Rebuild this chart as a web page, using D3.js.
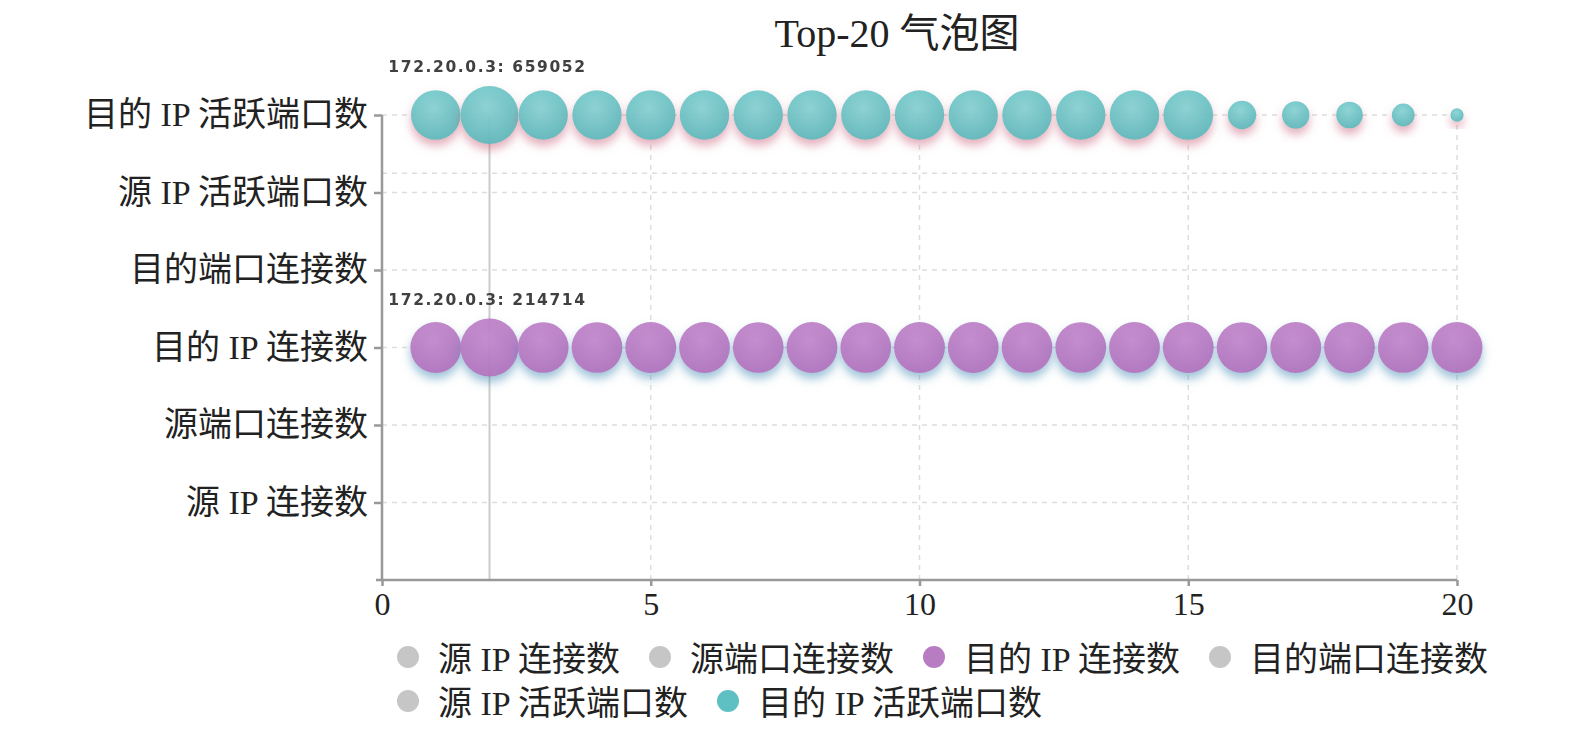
<!DOCTYPE html>
<html lang="zh">
<head>
<meta charset="UTF-8">
<title>Top-20 气泡图</title>
<script src="https://d3js.org/d3.v7.min.js"></script>
<style>
    body { margin: 0; background: #fff; }
    text { font-family: "Liberation Serif", "Noto Sans CJK SC", serif; fill: #222; }
    .grid line { stroke: #ddd; stroke-width: 1.5; stroke-dasharray: 5,5; }
    .axis line, .axis path { stroke: #999; stroke-width: 2.5; }
    .tip { font-family: "DejaVu Sans", "Liberation Sans", sans-serif; font-weight: bold; font-size: 15.5px; letter-spacing: 1.6px; fill: #3f3f3f; }
</style>
</head>
<body>
<svg width="1575" height="730"></svg>
<script>
// categories, bottom to top on the y axis (also the legend order)
const categories = ["源 IP 连接数", "源端口连接数", "目的 IP 连接数", "目的端口连接数", "源 IP 活跃端口数", "目的 IP 活跃端口数"];
const ranks = d3.range(1, 21);
// 目的 IP 活跃端口数, top-20 values (x = rank)
const dstIpActivePorts = [482300, 659052, 476800, 478100, 480500, 479200, 477600, 478900, 476200, 479800,
                          477100, 481200, 478400, 480100, 483600, 158200, 146800, 138500, 102300, 34600];
// 目的 IP 连接数, top-20 values
const dstIpConns = [164800, 214714, 163900, 164200, 165100, 164500, 163700, 164900, 164100, 165300,
                    164600, 163800, 164300, 165000, 164700, 163600, 165200, 164400, 163500, 166100];
const hoverRank = 2;
const hoverIp = "172.20.0.3";
const extraGrid = [5.25];
const xTicks = [0, 5, 10, 15, 20];

const seriesColors = {
    "目的 IP 连接数": "#b87cc3",
    "目的 IP 活跃端口数": "#5fc0c3"
};
const series = [
    { name: "目的 IP 活跃端口数", level: 6, values: dstIpActivePorts, grad: "gCyan", shadow: "sPink" },
    { name: "目的 IP 连接数", level: 3, values: dstIpConns, grad: "gPurple", shadow: "sBlue" }
];

const svg = d3.select("svg");
const pLeft = 382, pRight = 1457, pTop = 115, pBottom = 580;

const x = d3.scaleLinear().domain([0, 20]).range([pLeft, pRight]);
const y = d3.scaleLinear().domain([0, 6]).range([pBottom, pTop]);

// defs: gradients and shadows
const defs = svg.append("defs");
function radial(id, c0, c1) {
    const g = defs.append("radialGradient").attr("id", id)
        .attr("cx", "0.45").attr("cy", "0.35").attr("r", "0.7");
    g.append("stop").attr("offset", "0%").attr("stop-color", c0);
    g.append("stop").attr("offset", "100%").attr("stop-color", c1);
}
radial("gCyan", "#84d3d4", "#52b7ba");
radial("gPurple", "#c488cc", "#b06fbc");
function shadow(id, color) {
    const f = defs.append("filter").attr("id", id)
        .attr("x", "-50%").attr("y", "-50%").attr("width", "200%").attr("height", "200%");
    f.append("feDropShadow").attr("dx", 0).attr("dy", 6).attr("stdDeviation", 5)
        .attr("flood-color", color).attr("flood-opacity", 0.55);
}
shadow("sPink", "#c8607a");
shadow("sBlue", "#3a86b0");
defs.append("filter").attr("id", "soft")
    .append("feGaussianBlur").attr("stdDeviation", 0.6);

// title
svg.append("text")
    .attr("x", 897).attr("y", 47)
    .attr("text-anchor", "middle")
    .style("font-size", "40px")
    .text("Top-20 气泡图");

// grid
const grid = svg.append("g").attr("class", "grid");
grid.selectAll(".h").data(d3.range(1, 7).concat(extraGrid)).join("line")
    .attr("x1", pLeft).attr("x2", pRight)
    .attr("y1", d => y(d)).attr("y2", d => y(d));
grid.selectAll(".v").data(xTicks.slice(1)).join("line")
    .attr("x1", d => x(d)).attr("x2", d => x(d))
    .attr("y1", pTop).attr("y2", pBottom);

// hover crosshair
svg.append("line")
    .attr("x1", x(hoverRank)).attr("x2", x(hoverRank))
    .attr("y1", pTop).attr("y2", pBottom)
    .attr("stroke", "#ccc").attr("stroke-width", 2);

// axes
const xAxis = svg.append("g").attr("class", "axis")
    .attr("transform", `translate(0,${pBottom})`)
    .call(d3.axisBottom(x).tickValues(xTicks).tickSize(6).tickSizeOuter(0).tickPadding(6));
xAxis.select(".domain").attr("d", `M${pLeft - 6},0H${pRight}`);
xAxis.selectAll("text").style("font-size", "32px").attr("fill", "#222");

const yAxis = svg.append("g").attr("class", "axis")
    .attr("transform", `translate(${pLeft},0)`)
    .call(d3.axisLeft(y).tickValues(d3.range(1, 7)).tickFormat(d => categories[d - 1])
        .tickSize(8).tickSizeOuter(0).tickPadding(6));
yAxis.select(".domain").attr("d", `M0,${pTop}V${pBottom}`);
yAxis.selectAll("text").style("font-size", "34px").attr("fill", "#222").attr("dy", "0.32em");

// bubbles
series.forEach(s => {
    const r = d3.scaleSqrt().domain([0, d3.max(s.values)]).range([0, 29]);
    svg.append("g").selectAll("circle").data(s.values).join("circle")
        .attr("cx", (d, i) => x(ranks[i]))
        .attr("cy", y(s.level))
        .attr("r", d => r(d))
        .attr("fill", `url(#${s.grad})`)
        .attr("fill-opacity", 0.9)
        .attr("filter", `url(#${s.shadow})`);
    const hv = s.values[hoverRank - 1];
    svg.append("text").attr("class", "tip")
        .attr("x", x(hoverRank) - 2).attr("y", y(s.level) - r(hv) - 14)
        .attr("text-anchor", "middle")
        .attr("filter", "url(#soft)")
        .text(`${hoverIp}: ${hv}`);
});

// legend
const legend = svg.append("g");
let lx = 408, ly = 659;
categories.forEach(name => {
    const item = legend.append("g");
    const t = item.append("text")
        .attr("x", lx + 30).attr("y", ly)
        .attr("dy", "0.35em")
        .style("font-size", "34px")
        .text(name);
    const w = t.node().getComputedTextLength();
    if (lx + 30 + w > 1500) {
        lx = 408; ly += 44;
        t.attr("x", lx + 30).attr("y", ly);
    }
    item.insert("circle", "text")
        .attr("cx", lx).attr("cy", ly - 2).attr("r", 11)
        .attr("fill", seriesColors[name] || "#c6c6c6")
        .attr("filter", "url(#soft)");
    lx = lx + 30 + w + 40;
});
</script>
</body>
</html>
